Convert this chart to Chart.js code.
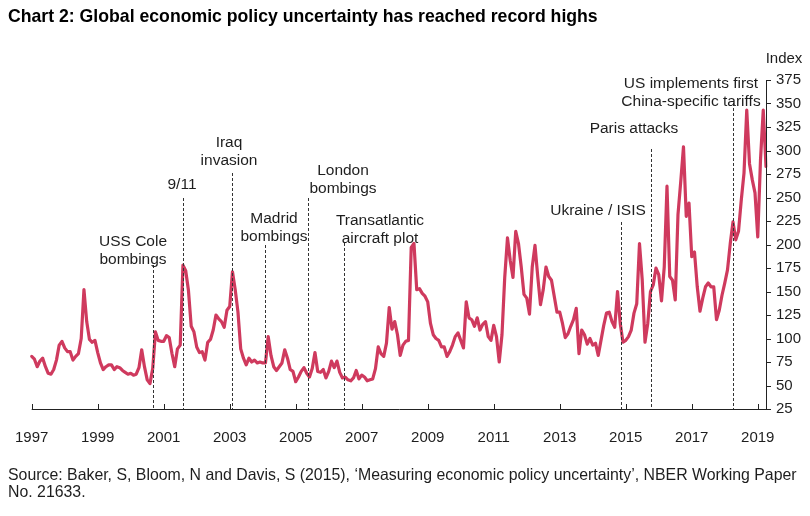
<!DOCTYPE html>
<html>
<head>
<meta charset="utf-8">
<script src="https://cdn.jsdelivr.net/npm/chart.js@4.4.1/dist/chart.umd.min.js"></script>
<style>
  html, body { margin: 0; padding: 0; background: #fff; }
</style>
</head>
<body>
<canvas id="epuChart" width="810" height="516"></canvas>
<script>
// Global economic policy uncertainty index, monthly, Jan 1997 - Apr 2019
const firstYear = 1997;
const yearTicks = [1997, 1999, 2001, 2003, 2005, 2007, 2009, 2011, 2013, 2015, 2017, 2019];
const yTicks = [25, 50, 75, 100, 125, 150, 175, 200, 225, 250, 275, 300, 325, 350, 375];

const epu = [
  81, 78, 70, 76, 79, 70, 63, 62, 67, 77, 93, 97,            // 1997
  90, 86, 86, 77, 81, 84, 100, 152, 118, 99, 96, 98,         // 1998
  85, 74, 67, 70, 72, 72, 67, 70, 69, 66, 64, 62,            // 1999
  63, 61, 62, 69, 88, 70, 56, 52, 68, 107, 98, 97,           // 2000
  97, 103, 101, 84, 70, 89, 93, 178, 172, 151, 113, 107,     // 2001
  91, 85, 86, 77, 96, 99, 109, 125, 121, 118, 112, 130,      // 2002
  134, 171, 152, 128, 89, 79, 72, 79, 75, 77, 74, 75,        // 2003
  74, 74, 102, 82, 70, 66, 70, 74, 88, 79, 67, 65,           // 2004
  54, 59, 65, 69, 63, 59, 68, 85, 65, 64, 67, 58,            // 2005
  65, 76, 69, 76, 64, 58, 59, 56, 55, 58, 66, 57,            // 2006
  61, 59, 55, 56, 57, 68, 91, 84, 81, 95, 133, 110,          // 2007
  118, 104, 82, 93, 97, 98, 197, 201, 152, 153, 148, 145,    // 2008
  139, 116, 104, 100, 98, 91, 91, 81, 86, 93, 102, 106,      // 2009
  98, 90, 139, 122, 120, 113, 122, 109, 115, 118, 102, 98,   // 2010
  114, 102, 75, 104, 165, 207, 183, 165, 214, 201, 176, 147, // 2011
  143, 126, 176, 199, 166, 136, 152, 176, 166, 162, 145, 128,// 2012
  128, 116, 101, 105, 113, 120, 132, 84, 109, 104, 94, 100,  // 2013
  93, 95, 82, 98, 114, 127, 128, 118, 112, 150, 116, 96,     // 2014
  98, 102, 109, 127, 137, 201, 162, 96, 116, 150, 157, 175,  // 2015
  168, 140, 176, 262, 166, 162, 141, 232, 267, 304, 230, 244,// 2016
  187, 192, 155, 129, 143, 155, 159, 155, 155, 120, 130, 146,// 2017
  159, 173, 201, 224, 205, 214, 247, 276, 343, 286, 269, 255,// 2018
  208, 290, 343, 283                                         // 2019
];

// events marked with dashed lines (position on the monthly axis)
const eventNames = [
  ['USS Cole', 'bombings'], ['9/11'], ['Iraq', 'invasion'], ['Madrid', 'bombings'],
  ['London', 'bombings'], ['Transatlantic', 'aircraft plot'], ['Ukraine / ISIS'],
  ['Paris attacks'], ['US implements first', 'China-specific tariffs']
];
const eventMonths = [44.2, 55.1, 72.8, 84.8, 100.6, 113.6, 214.3, 225.2, 254.9];

// where each label sits on the page
const eventLayout = [
  { top: 265, x: 133, y: 242 },
  { top: 198, x: 182, y: 185 },
  { top: 173, x: 229, y: 143 },
  { top: 245, x: 274, y: 219 },
  { top: 198, x: 343, y: 171 },
  { top: 243, x: 380, y: 221 },
  { top: 222, x: 598, y: 211 },
  { top: 149, x: 634, y: 129 },
  { top: 103, x: 691, y: 84 }
];

const months = epu.map((v, i) => {
  const y = firstYear + Math.floor(i / 12);
  const m = (i % 12) + 1;
  return y + '-' + (m < 10 ? '0' + m : m);
});

const FONT = '"Liberation Sans", Arial, sans-serif';
const TEXT = '#1e1e1e';

function fitFont(ctx, text, weight, width) {
  ctx.font = weight + ' 100px ' + FONT;
  const size = 100 * width / ctx.measureText(text).width;
  return weight + ' ' + size.toFixed(2) + 'px ' + FONT;
}

const decorations = {
  id: 'decorations',
  afterDatasetsDraw(chart) {
    const ctx = chart.ctx;
    const x = chart.scales.x;
    const y = chart.scales.y;
    const area = chart.chartArea;
    ctx.save();
    // dashed event lines
    ctx.strokeStyle = '#333';
    ctx.lineWidth = 1;
    ctx.setLineDash([3, 2]);
    eventMonths.forEach((pos, i) => {
      const px = Math.round(x.getPixelForValue(pos)) + 0.5;
      ctx.beginPath();
      ctx.moveTo(px, eventLayout[i].top);
      ctx.lineTo(px, area.bottom);
      ctx.stroke();
    });
    ctx.setLineDash([]);
    // axes
    ctx.strokeStyle = '#222';
    ctx.beginPath();
    ctx.moveTo(area.left, area.bottom + 0.5);
    ctx.lineTo(area.right + 1, area.bottom + 0.5);
    ctx.moveTo(area.right + 0.5, area.top);
    ctx.lineTo(area.right + 0.5, area.bottom + 1);
    yTicks.forEach(t => {
      const py = Math.round(y.getPixelForValue(t)) + 0.5;
      ctx.moveTo(area.right, py);
      ctx.lineTo(area.right + 5, py);
    });
    yearTicks.forEach(yr => {
      const px = Math.round(x.getPixelForValue((yr - firstYear) * 12)) + 0.5;
      ctx.moveTo(px, area.bottom);
      ctx.lineTo(px, area.bottom - 5);
    });
    ctx.stroke();
    ctx.restore();
  },
  afterDraw(chart) {
    const ctx = chart.ctx;
    ctx.save();
    ctx.fillStyle = TEXT;
    ctx.textBaseline = 'middle';
    ctx.textAlign = 'center';
    ctx.font = '15.5px ' + FONT;
    eventNames.forEach((lines, i) => {
      lines.forEach((t, j) => {
        ctx.fillText(t, eventLayout[i].x, eventLayout[i].y + j * 18);
      });
    });
    ctx.font = '15px ' + FONT;
    ctx.fillText('Index', 784, 59);

    ctx.textAlign = 'left';
    ctx.fillStyle = '#000';
    const title = 'Chart 2: Global economic policy uncertainty has reached record highs';
    ctx.font = fitFont(ctx, title, 'bold', 590);
    ctx.fillText(title, 8, 17);

    ctx.fillStyle = TEXT;
    const src = 'Source: Baker, S, Bloom, N and Davis, S (2015), \u2018Measuring economic policy uncertainty\u2019, NBER Working Paper';
    ctx.font = fitFont(ctx, src, 'normal', 789);
    ctx.fillText(src, 8, 476);
    ctx.fillText('No. 21633.', 8, 493);
    ctx.restore();
  }
};

const ctx = document.getElementById('epuChart').getContext('2d');
new Chart(ctx, {
  type: 'line',
  data: {
    labels: months,
    datasets: [
      {
        label: 'Global EPU',
        data: epu,
        borderColor: '#cf3a5e',
        borderWidth: 3.2,
        borderJoinStyle: 'round',
        borderCapStyle: 'round',
        pointRadius: 0,
        tension: 0,
        fill: false,
      },
    ],
  },
  options: {
    responsive: false,
    animation: false,
    layout: { padding: { left: 31.7, right: 0, top: 80, bottom: 0 } },
    plugins: { legend: { display: false }, tooltip: { enabled: false } },
    scales: {
      x: {
        // tickLength only pushes the labels down, the marks are drawn by the plugin
        grid: { display: false, drawTicks: true, tickLength: 20 },
        border: { display: false },
        ticks: {
          autoSkip: false,
          maxRotation: 0,
          padding: 0,
          color: TEXT,
          font: { family: FONT, size: 15 },
          callback: function (value, index) {
            const yr = firstYear + Math.floor(index / 12);
            return index % 12 === 0 && yearTicks.includes(yr) ? String(yr) : null;
          },
        },
        afterFit: (scale) => { scale.height = 107; },
      },
      y: {
        position: 'right',
        min: 25,
        max: 375,
        grid: { display: false, drawTicks: false },
        border: { display: false },
        ticks: {
          stepSize: 25,
          padding: 10,
          color: TEXT,
          font: { family: FONT, size: 15 },
        },
        afterFit: (scale) => { scale.width = 44; },
      },
    },
  },
  plugins: [decorations],
});
</script>
</body>
</html>
